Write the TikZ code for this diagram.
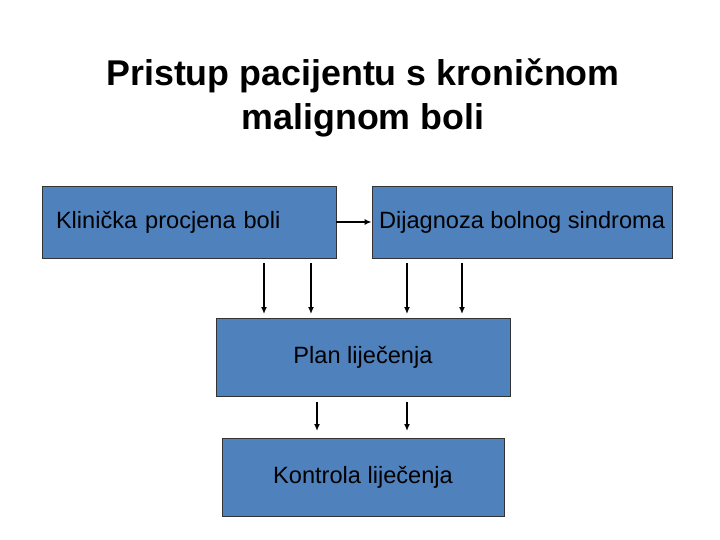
\documentclass[tikz,border=0pt]{standalone}
\usepackage{fontspec}
\setmainfont{Liberation Sans}
\usepackage{xcolor}
\usepackage{tikz}
\usetikzlibrary{arrows.meta}
\definecolor{boxblue}{HTML}{4F81BD}
\tikzset{
	box/.style={draw=black!80,fill=boxblue,line width=0.8pt,minimum height=72pt,inner sep=0pt,font=\fontsize{23.6}{28}\selectfont},
	flow/.style={-{Latex[length=7pt,width=6pt]},line width=1.4pt}
}
\begin{document}
\begin{tikzpicture}[x=1pt,y=-1pt]
			\useasboundingbox (0,0) rectangle (720,540);
			\node[font=\bfseries\fontsize{35.8}{44}\selectfont,align=center] (title) at (363,98) {Pristup pacijentu s kroničnom\\malignom boli};
			\node[box,minimum width=294pt,text width=266pt,inner xsep=14pt,align=left] (procjena) at (189,222) {Klinička procjena boli};
			\node[box,minimum width=300pt] (dijagnoza) at (522,222) {Dijagnoza bolnog sindroma};
			\node[box,minimum width=294pt,minimum height=78pt] (plan) at (363,357) {Plan liječenja};
			\node[box,minimum width=282pt,minimum height=78pt] (kontrola) at (363,477) {Kontrola liječenja};
			\draw[flow] (procjena) -- (dijagnoza);
			\foreach \name/\xx in {a/264,b/311,c/407,d/462}{
				\coordinate (top\name) at (\xx,263);
				\coordinate (end\name) at (\xx,314);
				\draw[flow] (top\name) -- (end\name);
			}
			\foreach \name/\xx in {e/317,f/407}{
				\coordinate (top\name) at (\xx,402);
				\coordinate (end\name) at (\xx,431);
				\draw[flow] (top\name) -- (end\name);
			}
\end{tikzpicture}
\end{document}
